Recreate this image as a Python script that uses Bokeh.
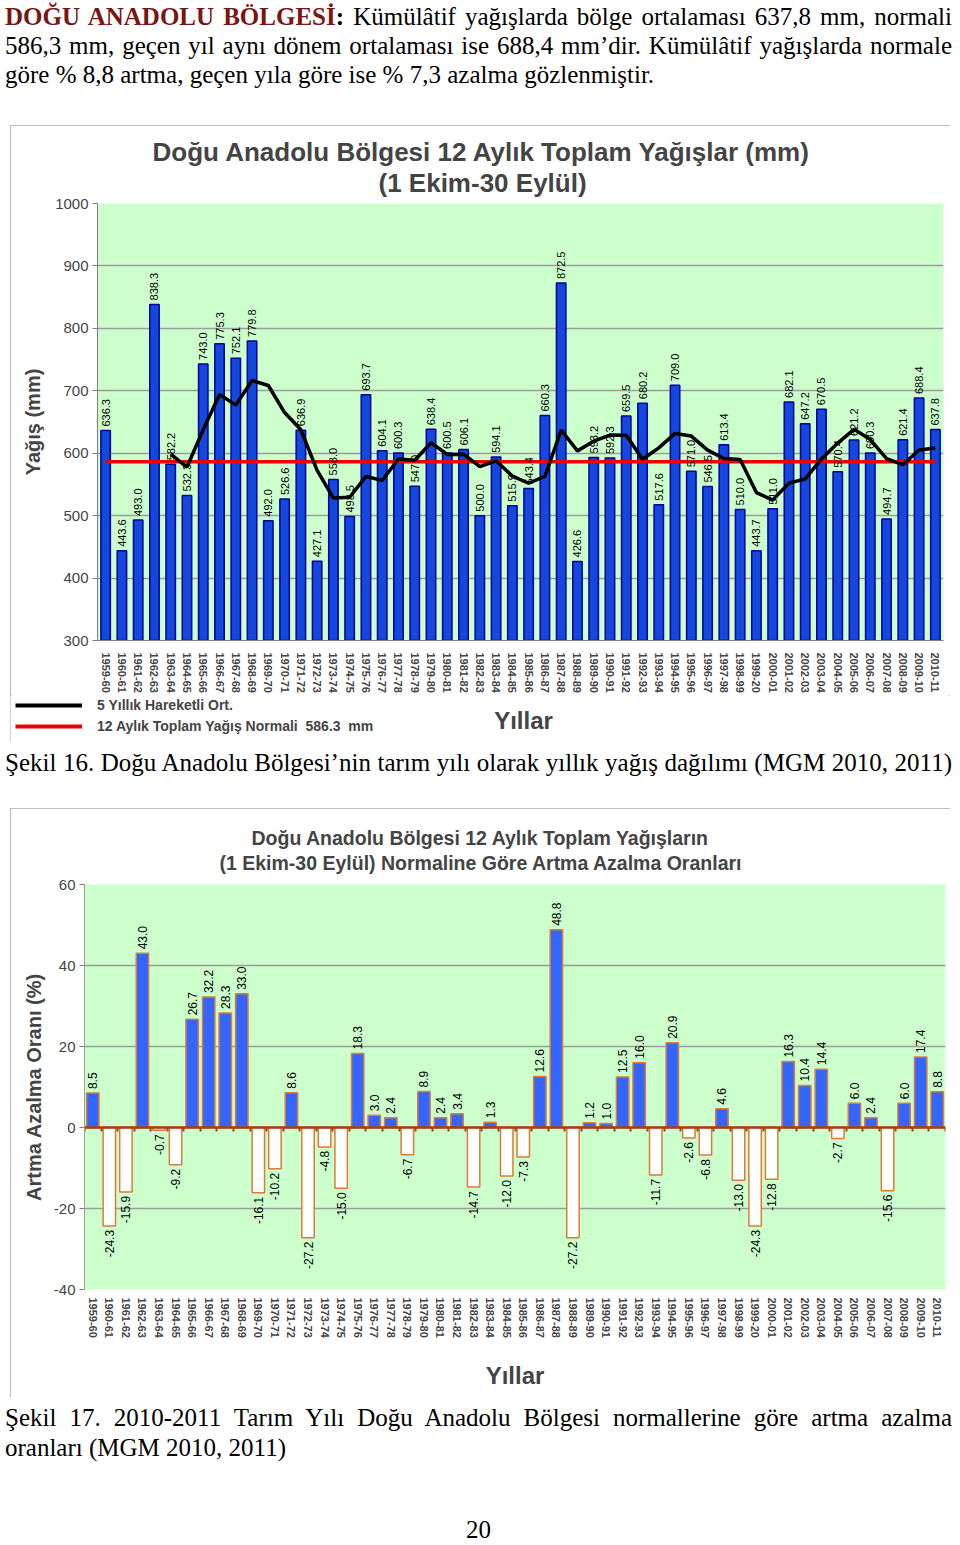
from math import pi
import pandas as pd
from bokeh.core.properties import value
from bokeh.embed import file_html
from bokeh.layouts import column, row
from bokeh.models import (ColumnDataSource, Div, FixedTicker, Label, LabelSet, Legend,
                          LegendItem, LinearAxis, PrintfTickFormatter, Range1d,
                          SingleIntervalTicker, Title)
from bokeh.plotting import figure
from bokeh.resources import INLINE

# ---------------- data ----------------
years = ["1959-60", "1960-61", "1961-62", "1962-63", "1963-64", "1964-65", "1965-66",
         "1966-67", "1967-68", "1968-69", "1969-70", "1970-71", "1971-72", "1972-73",
         "1973-74", "1974-75", "1975-76", "1976-77", "1977-78", "1978-79", "1979-80",
         "1980-81", "1981-82", "1982-83", "1983-84", "1984-85", "1985-86", "1986-87",
         "1987-88", "1988-89", "1989-90", "1990-91", "1991-92", "1992-93", "1993-94",
         "1994-95", "1995-96", "1996-97", "1997-98", "1998-99", "1999-20", "2000-01",
         "2001-02", "2002-03", "2003-04", "2004-05", "2005-06", "2006-07", "2007-08",
         "2008-09", "2009-10", "2010-11"]

precip_mm = [636.3, 443.6, 493.0, 838.3, 582.2, 532.3, 743.0, 775.3, 752.1, 779.8,
             492.0, 526.6, 636.9, 427.1, 558.0, 498.5, 693.7, 604.1, 600.3, 547.0,
             638.4, 600.5, 606.1, 500.0, 594.1, 515.9, 543.4, 660.3, 872.5, 426.6,
             593.2, 592.3, 659.5, 680.2, 517.6, 709.0, 571.0, 546.5, 613.4, 510.0,
             443.7, 511.0, 682.1, 647.2, 670.5, 570.4, 621.2, 600.3, 494.7, 621.4,
             688.4, 637.8]

change_pct = [8.5, -24.3, -15.9, 43.0, -0.7, -9.2, 26.7, 32.2, 28.3, 33.0,
              -16.1, -10.2, 8.6, -27.2, -4.8, -15.0, 18.3, 3.0, 2.4, -6.7,
              8.9, 2.4, 3.4, -14.7, 1.3, -12.0, -7.3, 12.6, 48.8, -27.2,
              1.2, 1.0, 12.5, 16.0, -11.7, 20.9, -2.6, -6.8, 4.6, -13.0,
              -24.3, -12.8, 16.3, 10.4, 14.4, -2.7, 6.0, 2.4, -15.6, 6.0,
              17.4, 8.8]

NORMAL_MM = 586.3
MA_WINDOW = 5

FONT = "Liberation Sans"
SERIF = "Liberation Serif"

n = len(years)
xs = list(range(n))
label_map = {i: y for i, y in enumerate(years)}
OUTLINE = {"outline": "2px solid #A8A8A8", "outline-offset": "-2px"}
NAN = float("nan")


def no_frame_align(p):
    try:
        p.frame_align = False
    except Exception:
        pass


def make_title(text, size, off, so):
    kw = dict(text=text, align="left", offset=off, text_font=FONT,
              text_font_style="bold", text_font_size=size)
    try:
        return Title(standoff=so, **kw)
    except Exception:
        return Title(standoff=0, **kw)


def add_title_lines(p, lines):
    # nearest-to-plot first
    for text, size, off, so in lines:
        p.add_layout(make_title(text, size, off, so), "above")


# ---------------- figure 1 ----------------
moving_avg = pd.Series(precip_mm).rolling(MA_WINDOW).mean().tolist()
ma_x = xs[MA_WINDOW - 1:]
ma_y = moving_avg[MA_WINDOW - 1:]

src1 = ColumnDataSource(dict(x=xs, v=precip_mm, lbl=[f"{v:.1f}" for v in precip_mm]))

p1 = figure(width=940, height=570, x_range=Range1d(-0.5, n - 0.5), y_range=Range1d(300, 1000),
            output_backend="svg", toolbar_location=None,
            min_border_left=87, min_border_right=7, min_border_top=78, min_border_bottom=53,
            background_fill_color="#CCFFCC", border_fill_color="white", outline_line_color=None)
no_frame_align(p1)
p1.title.text = ""
add_title_lines(p1, [("(1 Ekim-30 Eylül)", "26px", 281, 11),
                     ("Doğu Anadolu Bölgesi 12 Aylık Toplam Yağışlar (mm)", "26px", 55, -12)])

p1.yaxis.ticker = SingleIntervalTicker(interval=100)
p1.yaxis.formatter = PrintfTickFormatter(format="%d")
p1.yaxis.axis_label = "Yağış (mm)"
p1.yaxis.axis_label_text_font = FONT
p1.yaxis.axis_label_text_font_style = "bold"
p1.yaxis.axis_label_text_font_size = "20px"
p1.yaxis.axis_label_standoff = 8
p1.yaxis.major_label_text_font = FONT
p1.yaxis.major_label_text_font_size = "15px"
p1.yaxis.major_label_standoff = 4
p1.yaxis.major_tick_out = 5
p1.yaxis.major_tick_in = 0
p1.yaxis.minor_tick_line_color = None
p1.yaxis.axis_line_color = "#808080"
p1.yaxis.major_tick_line_color = "#808080"

p1.xaxis.ticker = FixedTicker(ticks=xs)
p1.xaxis.major_label_overrides = label_map
p1.xaxis.major_label_orientation = "vertical"
p1.xaxis.major_label_text_font = FONT
p1.xaxis.major_label_text_font_style = "bold"
p1.xaxis.major_label_text_font_size = "11px"
p1.xaxis.major_label_standoff = 6
p1.xaxis.major_tick_line_color = None
p1.xaxis.minor_tick_line_color = None
p1.xaxis.axis_line_color = "#808080"

p1.xgrid.grid_line_color = None
p1.ygrid.grid_line_color = "#9C9C9C"
p1.ygrid.grid_line_width = 1.5

p1.vbar(x="x", top="v", bottom=300, width=0.58, fill_color="#1447DE",
        line_color="#000099", line_width=1.5, source=src1)
p1.line(x=[xs[0], xs[-1]], y=[NORMAL_MM, NORMAL_MM], line_color="#EE0000", line_width=3.5)
p1.line(x=ma_x, y=ma_y, line_color="black", line_width=3.5)

p1.add_layout(LabelSet(x="x", y="v", text="lbl", source=src1, angle=pi / 2,
                       text_align="left", text_baseline="middle", y_offset=4,
                       text_font=value(FONT), text_font_size="11px", text_color="black"))

# bottom strip of chart 1: legend and axis title
p1b = figure(width=940, height=47, x_range=Range1d(0, 1), y_range=Range1d(0, 1),
             x_axis_type=None, y_axis_type=None, output_backend="svg", toolbar_location=None,
             min_border=0, outline_line_color=None, background_fill_color="white",
             border_fill_color="white")
no_frame_align(p1b)
p1b.title.text = ""
# legend-only renderers (no visible data)
lg_ma = p1b.line(x=[NAN], y=[NAN], line_color="black", line_width=4)
lg_norm = p1b.line(x=[NAN], y=[NAN], line_color="#EE0000", line_width=4)
legend1 = Legend(items=[LegendItem(label="5 Yıllık Hareketli Ort.", renderers=[lg_ma]),
                        LegendItem(label=f"12 Aylık Toplam Yağış Normali  {NORMAL_MM}  mm",
                                   renderers=[lg_norm])],
                 location=(5, 6), orientation="vertical",
                 label_text_font=FONT, label_text_font_style="bold", label_text_font_size="14px",
                 glyph_width=67, glyph_height=20, label_height=20, label_standoff=15,
                 spacing=1, padding=0, margin=0, border_line_color=None,
                 background_fill_alpha=0)
p1b.add_layout(legend1)
p1b.add_layout(Label(x=513, y=22, x_units="screen", y_units="screen", text="Yıllar",
                     text_align="center", text_baseline="middle", text_font=FONT,
                     text_font_style="bold", text_font_size="24px"))

chart1 = column(row(p1), row(p1b), spacing=0)
chart1.margin = (5, 0, 0, 2)
chart1.styles = OUTLINE

# ---------------- figure 2 ----------------
pos = [(x, v) for x, v in zip(xs, change_pct) if v >= 0]
neg = [(x, v) for x, v in zip(xs, change_pct) if v < 0]
src2 = ColumnDataSource(dict(x=xs, v=change_pct,
                             color=["#3366FF" if v >= 0 else "white" for v in change_pct]))
src_pos = ColumnDataSource(dict(x=[a for a, _ in pos], v=[b for _, b in pos],
                                lbl=[f"{b:.1f}" for _, b in pos]))
src_neg = ColumnDataSource(dict(x=[a for a, _ in neg], v=[b for _, b in neg],
                                lbl=[f"{b:.1f}" for _, b in neg]))

p2 = figure(width=940, height=590, x_range=Range1d(-0.5, n - 0.5), y_range=Range1d(-40, 60),
            output_backend="svg", toolbar_location=None,
            min_border_left=74, min_border_right=5, min_border_top=76, min_border_bottom=109,
            background_fill_color="#CCFFCC", border_fill_color="white", outline_line_color=None)
no_frame_align(p2)
p2.margin = (0, 0, 0, 2)
p2.styles = OUTLINE
p2.title.text = ""
add_title_lines(p2, [("(1 Ekim-30 Eylül) Normaline Göre Artma Azalma Oranları", "19.5px", 135, 22),
                     ("Doğu Anadolu Bölgesi 12 Aylık Toplam Yağışların", "19.5px", 167, -20)])

p2.yaxis.ticker = SingleIntervalTicker(interval=20)
p2.yaxis.formatter = PrintfTickFormatter(format="%d")
p2.yaxis.axis_label = "Artma Azalma Oranı (%)"
p2.yaxis.axis_label_text_font = FONT
p2.yaxis.axis_label_text_font_style = "bold"
p2.yaxis.axis_label_text_font_size = "20px"
p2.yaxis.axis_label_standoff = 6
p2.yaxis.major_label_text_font = FONT
p2.yaxis.major_label_text_font_size = "15px"
p2.yaxis.major_label_standoff = 4
p2.yaxis.major_tick_out = 5
p2.yaxis.major_tick_in = 0
p2.yaxis.minor_tick_line_color = None
p2.yaxis.axis_line_color = "#A0A0A0"
p2.yaxis.major_tick_line_color = "#808080"

p2.xaxis.ticker = FixedTicker(ticks=xs)
p2.xaxis.major_label_overrides = label_map
p2.xaxis.major_label_orientation = "vertical"
p2.xaxis.major_label_text_font = FONT
p2.xaxis.major_label_text_font_style = "bold"
p2.xaxis.major_label_text_font_size = "11px"
p2.xaxis.major_label_standoff = 2
p2.xaxis.major_tick_line_color = None
p2.xaxis.minor_tick_line_color = None
p2.xaxis.axis_line_color = None
p2.xaxis.axis_label = "Yıllar"
p2.xaxis.axis_label_text_font = FONT
p2.xaxis.axis_label_text_font_style = "bold"
p2.xaxis.axis_label_text_font_size = "24px"
p2.xaxis.axis_label_standoff = 21

p2.xgrid.grid_line_color = None
p2.ygrid.grid_line_color = "#9C9C9C"
p2.ygrid.grid_line_width = 1.5

p2.vbar(x="x", top="v", bottom=0, width=0.75, fill_color="color",
        line_color="#E07A35", line_width=1.5, source=src2)

boundaries = [i - 0.5 for i in range(n + 1)]
zero_axis = LinearAxis(fixed_location=0, ticker=FixedTicker(ticks=boundaries),
                       major_label_overrides={b: "" for b in boundaries},
                       major_label_text_color=None,
                       axis_line_color="#A3400C", axis_line_width=2.5,
                       major_tick_line_color="#A3400C", major_tick_line_width=2,
                       major_tick_out=4, major_tick_in=0, minor_tick_line_color=None)
p2.add_layout(zero_axis, "below")

p2.add_layout(LabelSet(x="x", y="v", text="lbl", source=src_pos, angle=pi / 2,
                       text_align="left", text_baseline="middle", y_offset=4,
                       text_font=value(FONT), text_font_size="12px", text_color="black"))
p2.add_layout(LabelSet(x="x", y="v", text="lbl", source=src_neg, angle=pi / 2,
                       text_align="right", text_baseline="middle", y_offset=-4,
                       text_font=value(FONT), text_font_size="12px", text_color="black"))

# ---------------- text blocks ----------------
base = (f"font-family:'{SERIF}';font-size:25px;color:black;width:947px;"
        "margin-left:-3px;")
just = "text-align:justify;text-align-last:justify;"

header = Div(width=944, height=112, margin=(0, 0, 0, 0), text=(
    f'<div style="{base}line-height:29px;margin-top:-6px;">'
    f'<div style="{just}"><b style="color:#7A1515">DOĞU ANADOLU BÖLGESİ</b><b>:</b> '
    'Kümülâtif yağışlarda bölge ortalaması 637,8 mm, normali</div>'
    f'<div style="{just}">586,3 mm, geçen yıl aynı dönem ortalaması ise 688,4 mm’dir. '
    'Kümülâtif yağışlarda normale</div>'
    '<div>göre % 8,8 artma, geçen yıla göre ise % 7,3 azalma gözlenmiştir.</div>'
    '</div>'))

cap1 = Div(width=944, height=66, margin=(0, 0, 0, 0), text=(
    f'<div style="{base}line-height:29px;padding-top:6px;{just}">'
    'Şekil 16. Doğu Anadolu Bölgesi’nin tarım yılı olarak yıllık yağış dağılımı (MGM 2010, 2011)'
    '</div>'))

cap2 = Div(width=944, height=139, margin=(0, 0, 0, 0), text=(
    f'<div style="{base}line-height:30px;padding-top:5px;">'
    f'<div style="{just}">Şekil 17. 2010-2011 Tarım Yılı Doğu Anadolu Bölgesi normallerine '
    'göre artma azalma</div>'
    '<div>oranları (MGM 2010, 2011)</div>'
    '<div style="text-align:center;margin-top:52px;line-height:29px;">20</div>'
    '</div>'))

layout = column(header, chart1, cap1, row(p2), cap2, spacing=0)
layout.margin = (8, 0, 0, 8)

open("out.html", "w").write(file_html(layout, INLINE))
